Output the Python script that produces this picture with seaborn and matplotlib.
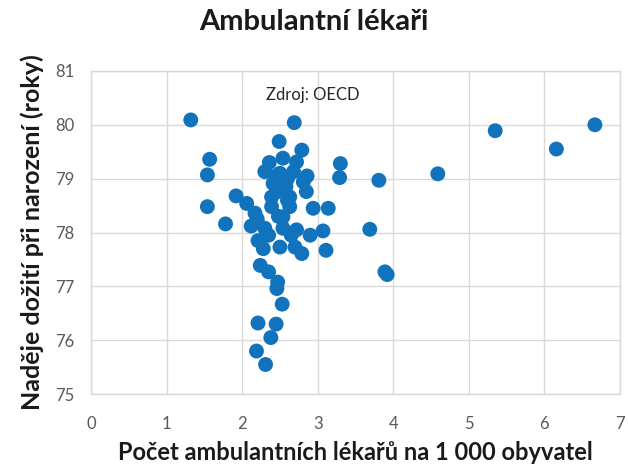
import matplotlib
matplotlib.use("Agg")
import matplotlib.pyplot as plt
import seaborn as sns
import pandas as pd

# Doctors per 1 000 inhabitants vs. life expectancy
doctors = [
    1.32, 2.69, 2.49, 2.79, 1.57, 1.54, 2.54, 2.72, 2.30, 2.50,
    2.68, 2.81, 2.41, 2.85, 3.30, 3.29, 3.81, 4.59, 5.35, 6.16,
    6.67, 1.92, 2.39, 2.63, 2.06, 2.39, 2.63, 2.94, 3.14, 1.54,
    2.17, 2.54, 1.78, 2.12, 2.30, 2.54, 2.72, 2.90, 3.07, 3.69,
    2.21, 2.28, 2.50, 2.70, 2.79, 3.11, 2.24, 2.35, 3.89, 3.92,
    2.47, 2.46, 2.53, 2.21, 2.45, 2.38, 2.19, 2.31, 2.60, 2.45,
    2.58, 2.45, 2.60, 2.48, 2.20, 2.65, 2.35, 2.86, 2.36,
]
life_exp = [
    80.09, 80.04, 79.69, 79.53, 79.36, 79.07, 79.38, 79.31, 79.13, 79.10,
    79.13, 78.94, 78.91, 78.76, 79.28, 79.02, 78.97, 79.09, 79.89, 79.55,
    80.00, 78.68, 78.66, 78.66, 78.54, 78.48, 78.48, 78.45, 78.45, 78.48,
    78.36, 78.29, 78.16, 78.12, 78.08, 78.08, 78.05, 77.95, 78.03, 78.06,
    77.85, 77.70, 77.73, 77.73, 77.61, 77.67, 77.39, 77.27, 77.27, 77.22,
    77.08, 76.96, 76.67, 76.32, 76.30, 76.05, 75.80, 75.55, 79.00, 79.05,
    78.85, 78.75, 78.60, 78.30, 78.25, 77.95, 77.95, 79.05, 79.30,
]

df = pd.DataFrame({"doctors": doctors, "life_exp": life_exp})

sns.set_style("whitegrid")
plt.rcParams["font.family"] = ["Lato", "DejaVu Sans"]

fig = plt.figure(figsize=(6.28, 4.76), dpi=100)
ax = fig.add_axes([0.145, 0.172, 0.842, 0.679])

sns.scatterplot(data=df, x="doctors", y="life_exp", ax=ax,
                color="#1273BD", s=115, edgecolor="none", zorder=3)

ax.set_xlim(0, 7)
ax.set_ylim(75, 81)
ax.set_xticks(range(0, 8))
ax.set_yticks(range(75, 82))
ax.grid(True, color="#d9d9d9", linewidth=1)
for sp in ax.spines.values():
    sp.set_color("#d9d9d9")
    sp.set_linewidth(1)
ax.tick_params(axis="both", length=0, labelsize=12, colors="#595959")
ax.tick_params(axis="x", pad=16)
ax.tick_params(axis="y", pad=12)

ax.set_xlabel("Počet ambulantních lékařů na 1 000 obyvatel",
              fontsize=17, fontweight="bold", color="#1a1a1a", labelpad=6)
ax.set_ylabel("Naděje dožití při narození (roky)",
              fontsize=18, fontweight="bold", color="#1a1a1a", labelpad=8)

ax.text(2.94, 80.55, "Zdroj: OECD", ha="center", va="center",
        fontsize=12, color="#262626")

fig.suptitle("Ambulantní lékaři", x=0.5, y=0.954, va="center",
             fontsize=21, fontweight="bold", color="#1a1a1a")

fig.savefig("out.png", dpi=100)
plt.close(fig)
